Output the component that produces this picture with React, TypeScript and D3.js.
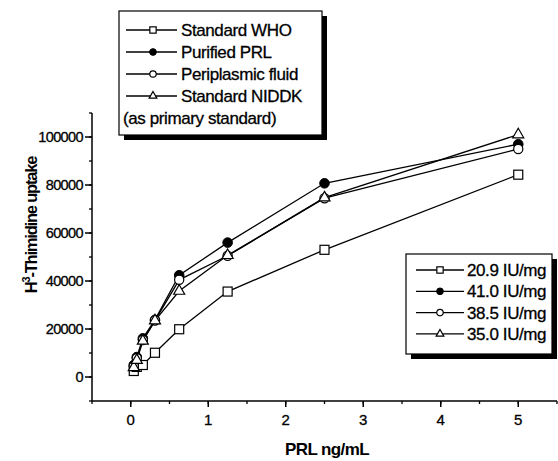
import React from "react";
import * as d3 from "d3";

const doses = [0.039, 0.078, 0.156, 0.3125, 0.625, 1.25, 2.5, 5];
const standardWHO = [2500, 4200, 5000, 10100, 19900, 35600, 53000, 84300];
const purifiedPRL = [5000, 8300, 16100, 23800, 42400, 56000, 80700, 97000];
const periplasmic = [4500, 7800, 15400, 23500, 40500, 50500, 74500, 95000];
const standardNIDDK = [4000, 7000, 15000, 23500, 35800, 50700, 74700, 101000];

const seriesNames = ["Standard WHO", "Purified PRL", "Periplasmic fluid", "Standard NIDDK"];
const potencyLabels = ["20.9 IU/mg", "41.0 IU/mg", "38.5 IU/mg", "35.0 IU/mg"];
const markerKinds = ["square", "filledCircle", "openCircle", "triangle"];
const xTicks = [0, 1, 2, 3, 4, 5];
const yTicks = [0, 20000, 40000, 60000, 80000, 100000];

const FONT = "'Liberation Sans', Arial, Helvetica, sans-serif";

function Marker({ kind, x, y, s = 1 }: { kind: string; x: number; y: number; s?: number }) {
  if (kind === "square") {
    const a = 9 * s;
    return <rect x={x - a / 2} y={y - a / 2} width={a} height={a} fill="white" stroke="black" strokeWidth={1.2} />;
  }
  if (kind === "filledCircle") {
    return <circle cx={x} cy={y} r={4.8 * s} fill="black" stroke="black" strokeWidth={1} />;
  }
  if (kind === "openCircle") {
    return <circle cx={x} cy={y} r={4.6 * s} fill="white" stroke="black" strokeWidth={1.2} />;
  }
  const a = 11 * s;
  const h = a * 0.866;
  const p = `M${x},${y - (2 * h) / 3}L${x + a / 2},${y + h / 3}L${x - a / 2},${y + h / 3}Z`;
  return <path d={p} fill="white" stroke="black" strokeWidth={1.2} />;
}

export default function App() {
  const W = 558, H = 461;
  const x = d3.scaleLinear().domain([-0.5, 5.5]).range([92, 557]);
  const y = d3.scaleLinear().domain([-10000, 110000]).range([401, 113]);
  const allSeries = [standardWHO, purifiedPRL, periplasmic, standardNIDDK];
  const line = d3.line<[number, number]>().x(d => x(d[0])).y(d => y(d[1]));

  const xMinor = d3.range(-0.5, 5.51, 0.5);
  const yMinor = d3.range(-10000, 110001, 10000);
  const ts = { stroke: "black", strokeWidth: 0.3 };

  return (
    <svg width={W} height={H} style={{ position: "absolute", left: 0, top: 0, background: "white" }} fontFamily={FONT}>
      <rect width={W} height={H} fill="white" />
      {/* axes */}
      <line x1={x(-0.5)} x2={x(5.5)} y1={y(-10000)} y2={y(-10000)} stroke="black" strokeWidth={1.5} />
      <line x1={x(-0.5)} x2={x(-0.5)} y1={y(-10000)} y2={y(110000)} stroke="black" strokeWidth={1.5} />
      {xMinor.map((v, i) => (
        <line key={"xm" + i} x1={x(v)} x2={x(v)} y1={y(-10000)} y2={y(-10000) + 3} stroke="black" strokeWidth={1.3} />
      ))}
      {xTicks.map(v => (
        <g key={"xt" + v}>
          <line x1={x(v)} x2={x(v)} y1={y(-10000)} y2={y(-10000) + 6} stroke="black" strokeWidth={1.5} />
          <text x={x(v)} y={425} textAnchor="middle" fontSize={15} {...ts}>{v}</text>
        </g>
      ))}
      {yMinor.map((v, i) => (
        <line key={"ym" + i} x1={x(-0.5) - 3} x2={x(-0.5)} y1={y(v)} y2={y(v)} stroke="black" strokeWidth={1.3} />
      ))}
      {yTicks.map(v => (
        <g key={"yt" + v}>
          <line x1={x(-0.5) - 7} x2={x(-0.5)} y1={y(v)} y2={y(v)} stroke="black" strokeWidth={1.5} />
          <text x={83} y={y(v) + 5} textAnchor="end" fontSize={14.5} letterSpacing={-0.6} {...ts}>{v}</text>
        </g>
      ))}
      <text x={327} y={455} textAnchor="middle" fontSize={17} fontWeight="bold" letterSpacing={-0.6}>PRL ng/mL</text>
      <text transform="translate(37,225) rotate(-90)" textAnchor="middle" fontSize={16.5} fontWeight="bold" letterSpacing={-1.2}>
        H<tspan dy={-7} fontSize={11}>3</tspan><tspan dy={7}>-Thimidine uptake</tspan>
      </text>

      {/* series */}
      {allSeries.map((s, i) => (
        <path key={"l" + i} d={line(doses.map((d, j) => [d, s[j]] as [number, number])) || ""} fill="none" stroke="black" strokeWidth={1.3} />
      ))}
      {allSeries.map((s, i) => (
        <g key={"m" + i}>
          {doses.map((d, j) => (
            <Marker key={j} kind={markerKinds[i]} x={x(d)} y={y(s[j])} />
          ))}
        </g>
      ))}

      {/* top legend */}
      <rect x={124} y={16} width={203} height={124} fill="black" />
      <rect x={119} y={11} width={203} height={124} fill="white" stroke="black" strokeWidth={1.2} />
      {seriesNames.map((n, i) => {
        const yy = 30 + i * 22;
        return (
          <g key={"lg" + i}>
            <line x1={126} x2={177} y1={yy} y2={yy} stroke="black" strokeWidth={1.3} />
            <Marker kind={markerKinds[i]} x={153} y={yy} s={0.7} />
            <text x={181} y={yy + 6} fontSize={17} letterSpacing={-0.4} {...ts}>{n}</text>
          </g>
        );
      })}
      <text x={123} y={124} fontSize={17} letterSpacing={-0.4} {...ts}>(as primary standard)</text>

      {/* bottom legend */}
      <rect x={411} y={259} width={146} height={100} fill="black" />
      <rect x={406} y={254} width={146} height={100} fill="white" stroke="black" strokeWidth={1.2} />
      {potencyLabels.map((n, i) => {
        const yy = 270 + i * 21.3;
        return (
          <g key={"lb" + i}>
            <line x1={416} x2={464} y1={yy} y2={yy} stroke="black" strokeWidth={1.3} />
            <Marker kind={markerKinds[i]} x={440} y={yy} s={0.7} />
            <text x={467} y={yy + 6} fontSize={17} letterSpacing={-0.4} {...ts}>{n}</text>
          </g>
        );
      })}
    </svg>
  );
}
